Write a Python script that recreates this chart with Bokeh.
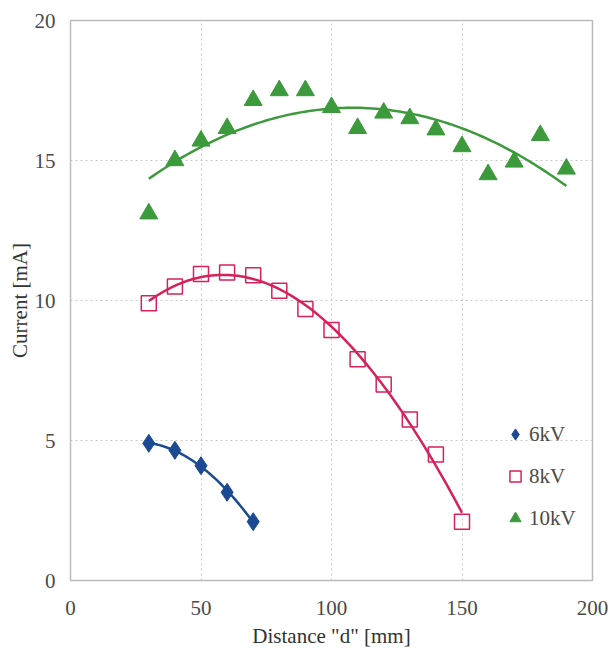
import numpy as np
from bokeh.plotting import figure
from bokeh.models import Range1d, FixedTicker, Legend, LegendItem
from bokeh.embed import file_html
from bokeh.resources import INLINE

d6 = [30, 40, 50, 60, 70]
i6 = [4.9, 4.65, 4.1, 3.15, 2.1]

d8 = [30, 40, 50, 60, 70, 80, 90, 100, 110, 120, 130, 140, 150]
i8 = [9.9, 10.5, 10.95, 11.0, 10.9, 10.35, 9.7, 8.95, 7.9, 7.0, 5.75, 4.5, 2.1]

d10 = [30, 40, 50, 60, 70, 80, 90, 100, 110, 120, 130, 140, 150, 160, 170, 180, 190]
i10 = [13.1, 15.0, 15.7, 16.15, 17.15, 17.5, 17.5, 16.9, 16.15, 16.7, 16.5, 16.1, 15.5, 14.5, 14.95, 15.9, 14.7]

labels = ["6kV", "8kV", "10kV"]
colors = ["#1b4a93", "#d6215c", "#3c9a3c"]

FONT = "'Liberation Serif', 'Times New Roman', serif"

p = figure(width=608, height=656, output_backend="svg", toolbar_location=None,
           x_range=Range1d(0, 200), y_range=Range1d(0, 20),
           min_border_left=70, min_border_top=20, min_border_right=16, min_border_bottom=76)

def trend(x, y, deg):
    c = np.polyfit(x, y, deg)
    xs = np.linspace(min(x), max(x), 100)
    return xs, np.polyval(c, xs)

xs, ys = trend(d6, i6, 2)
p.line(xs, ys, line_color=colors[0], line_width=2.5)
xs, ys = trend(d8, i8, 3)
p.line(xs, ys, line_color=colors[1], line_width=2.5)
xs, ys = trend(d10, i10, 2)
p.line(xs, ys, line_color=colors[2], line_width=2.5)

r6 = p.scatter(d6, i6, marker="diamond", size=18, fill_color=colors[0], line_color=colors[0])
r8 = p.scatter(d8, i8, marker="square", size=15, fill_color="white", fill_alpha=0.0,
               line_color=colors[1], line_width=1.5)
r10 = p.scatter(d10, i10, marker="triangle", size=18, fill_color=colors[2], line_color=colors[2])

p.xaxis.ticker = FixedTicker(ticks=[0, 50, 100, 150, 200])
p.yaxis.ticker = FixedTicker(ticks=[0, 5, 10, 15, 20])
for ax in (p.xaxis, p.yaxis):
    ax.axis_line_color = None
    ax.major_tick_line_color = None
    ax.minor_tick_line_color = None
    ax.major_label_text_font = FONT
    ax.major_label_text_font_size = "21px"
    ax.major_label_text_color = "#4a4a4a"
    ax.axis_label_text_font = FONT
    ax.axis_label_text_font_size = "21px"
    ax.axis_label_text_font_style = "normal"
    ax.axis_label_text_color = "#333333"
p.xaxis.axis_label = 'Distance "d" [mm]'
p.yaxis.axis_label = "Current [mA]"
p.xaxis.major_label_standoff = 14
p.yaxis.major_label_standoff = 9
p.xaxis.axis_label_standoff = 6
p.yaxis.axis_label_standoff = 0

p.grid.grid_line_color = "#c8c8c8"
p.grid.grid_line_dash = "2 3"
p.grid.grid_line_width = 1
p.outline_line_color = "#bbbbbb"
p.outline_line_width = 1.5

legend = Legend(items=[LegendItem(label=labels[0], renderers=[r6]),
                       LegendItem(label=labels[1], renderers=[r8]),
                       LegendItem(label=labels[2], renderers=[r10])],
                location=(431, 48))
legend.background_fill_alpha = 0
legend.border_line_color = None
legend.label_text_font = FONT
legend.label_text_font_size = "21px"
legend.label_text_color = "#4a4a4a"
legend.glyph_width = 28
legend.glyph_height = 28
legend.label_standoff = 0
legend.spacing = 14
legend.label_height = 28
p.add_layout(legend)

open("out.html", "w").write(file_html(p, INLINE))
